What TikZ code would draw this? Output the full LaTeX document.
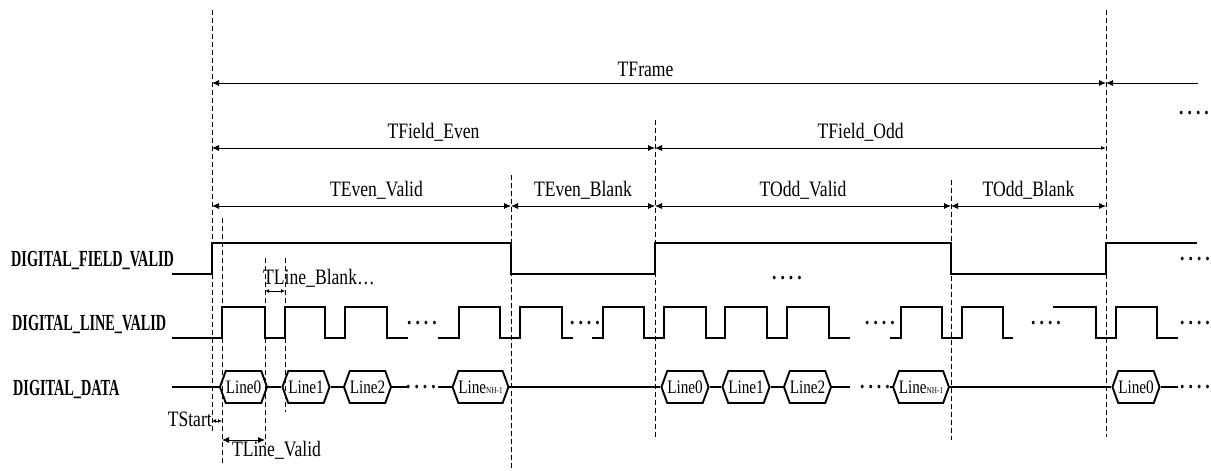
\documentclass[tikz,border=0pt]{standalone}
\usepackage{fontspec}
\usepackage{tikz}
\usetikzlibrary{positioning, arrows.meta, shapes.symbols, calc}

\newfontfamily\timesn[FakeStretch=0.8]{Liberation Serif}
\newfontfamily\timesb[FakeStretch=0.62]{Liberation Serif}
\newcommand{\fourdots}{.\hspace{4pt}.\hspace{4pt}.\hspace{4pt}.}
\newcommand{\lastline}{Line{\fontsize{9}{9}\selectfont NH-1}}

\begin{document}
\begin{tikzpicture}[
    x=1pt, y=-1pt,
    sig/.style={line width=1.9pt},
    guide/.style={line width=0.9pt, dash pattern=on 5pt off 3pt},
    dim/.style={{Latex[length=7pt,width=6pt]}-{Latex[length=7pt,width=6pt]}, line width=0.8pt},
    tinydim/.style={{Latex[length=4pt,width=4pt]}-{Latex[length=4pt,width=4pt]}, line width=0.8pt},
    lbl/.style={font=\timesn\fontsize{22}{22}\selectfont, inner sep=1pt},
    signame/.style={font=\timesb\bfseries\fontsize{23}{23}\selectfont, anchor=west, inner sep=0pt},
    dots/.style={font=\timesn\bfseries\fontsize{22}{22}\selectfont, inner sep=0pt},
    word/.style={signal, signal to=west and east, signal pointer angle=140, draw, line width=1.9pt,
        minimum height=32pt, minimum width=42pt, inner xsep=0pt, inner ysep=0pt,
        font=\timesn\fontsize{19}{19}\selectfont}
]
\useasboundingbox (0,0) rectangle (1211,471);

% Guide lines
\foreach \g/\gx/\ya/\yb in {ts/212/10/432, lv/222/218/465, le/265/258/445, ls/285/258/412,
    eb/511/175/471, fo/655/120/438, ob/951/180/440, fe/1106/10/437} {
    \coordinate (\g T) at (\gx,\ya);
    \coordinate (\g B) at (\gx,\yb);
    \draw[guide] (\g T) -- (\g B);
}
\coordinate (rowframe) at (0,83);
\coordinate (rowfield) at (0,148);
\coordinate (rowpart) at (0,206);
\coordinate (rowblank) at (0,291);
\coordinate (rowstart) at (0,421);
\coordinate (rowvalid) at (0,440);

% Frame and field timings
\draw[dim] (tsT |- rowframe) -- (feT |- rowframe) node[lbl, pos=0.485, above=5pt] {TFrame};
\coordinate (frameend) at (1198,83);
\draw[{Latex[length=7pt,width=6pt]}-, line width=0.8pt] (feT |- rowframe) -- (frameend);
\draw[dim] (tsT |- rowfield) -- (foT |- rowfield) node[lbl, midway, above=5pt] {TField\_Even};
\draw[{Latex[length=7pt,width=6pt]}-{Latex[length=5pt,width=4pt]}, line width=0.8pt]
    (foT |- rowfield) -- (feT |- rowfield) node[lbl, pos=0.456, above=5pt] {TField\_Odd};
\draw[dim] (tsT |- rowpart) -- (ebT |- rowpart) node[lbl, pos=0.55, above=5pt] {TEven\_Valid};
\draw[dim] (ebT |- rowpart) -- (foT |- rowpart) node[lbl, midway, above=5pt] {TEven\_Blank};
\draw[dim] (foT |- rowpart) -- (obT |- rowpart) node[lbl, midway, above=5pt] {TOdd\_Valid};
\draw[dim] (obT |- rowpart) -- (feT |- rowpart) node[lbl, midway, above=5pt] {TOdd\_Blank};
\node[dots] (dtop) at (1194,113) {\fourdots};

% Signal names
\node[signame] (nfield) at (11,260) {DIGITAL\_FIELD\_VALID};
\node[signame] (nline) at (12,324) {DIGITAL\_LINE\_VALID};
\node[signame] (ndata) at (13,389) {DIGITAL\_DATA};

% DIGITAL_FIELD_VALID
\draw[sig] (172,274) -- (212,274) -- (212,243) -- (511,243) -- (511,274) -- (655,274) -- (655,243)
    -- (951,243) -- (951,274) -- (1106,274) -- (1106,243) -- (1197,243);
\node[dots] (dfield) at (1195,259) {\fourdots};
\node[dots] (dmid) at (787,278) {\fourdots};

% DIGITAL_LINE_VALID
\draw[sig] (172,338) -- (222,338) -- (222,307) -- (265,307) -- (265,338) -- (285,338) -- (285,307)
    -- (325,307) -- (325,338) -- (345,338) -- (345,307) -- (387,307) -- (387,338) -- (408,338);
\draw[sig] (438,338) -- (459,338) -- (459,307) -- (500,307) -- (500,338) -- (520,338) -- (520,307)
    -- (562,307) -- (562,338) -- (573,338);
\draw[sig] (592,338) -- (603,338) -- (603,307) -- (644,307) -- (644,338) -- (664,338) -- (664,307)
    -- (706,307) -- (706,338) -- (725,338) -- (725,307) -- (767,307) -- (767,338) -- (787,338)
    -- (787,307) -- (829,307) -- (829,338) -- (850,338);
\draw[sig] (890,338) -- (901,338) -- (901,307) -- (942,307) -- (942,338) -- (962,338) -- (962,307)
    -- (1003,307) -- (1003,338) -- (1013,338);
\draw[sig] (1053,307) -- (1096,307) -- (1096,338) -- (1116,338) -- (1116,307) -- (1157,307)
    -- (1157,338) -- (1178,338);
\foreach \x in {422, 585, 880, 1046, 1195}
    \node[dots] at (\x,323) {\fourdots};

% Line timings
\draw[tinydim] (tsB |- rowstart) -- (lvB |- rowstart);
\node[lbl, anchor=east, inner sep=0pt] (tstart) at (212,419) {TStart};
\draw[dim] (lvB |- rowvalid) -- (leB |- rowvalid) node[lbl, pos=0.2, anchor=north west] {TLine\_Valid};
\draw[tinydim] (leT |- rowblank) -- (lsT |- rowblank);
\node[lbl, anchor=west, inner sep=0pt] (tblank) at (263,278) {TLine\_Blank…};

% DIGITAL_DATA
\node[word] (a0) at (243.5,387) {Line0};
\node[word] (a1) at (306,387) {Line1};
\node[word] (a2) at (367.5,387) {Line2};
\node[word] (an) at (480.5,387) {\lastline};
\node[word] (b0) at (685,387) {Line0};
\node[word] (b1) at (746,387) {Line1};
\node[word] (b2) at (807.5,387) {Line2};
\node[word] (bn) at (921,387) {\lastline};
\node[word] (c0) at (1136,387) {Line0};
\coordinate (dstart) at (172,387);
\coordinate (dcut1) at (407,387);
\coordinate (dgo1) at (438,387);
\coordinate (dcut2) at (850,387);
\coordinate (dgo2) at (890,387);
\coordinate (dend) at (1178,387);
\draw[sig] (dstart) -- (a0.west);
\draw[sig] (a0.east) -- (a1.west);
\draw[sig] (a1.east) -- (a2.west);
\draw[sig] (a2.east) -- (dcut1);
\draw[sig] (dgo1) -- (an.west);
\draw[sig] (an.east) -- (b0.west);
\draw[sig] (b0.east) -- (b1.west);
\draw[sig] (b1.east) -- (b2.west);
\draw[sig] (b2.east) -- (dcut2);
\draw[sig] (dgo2) -- (bn.west);
\draw[sig] (bn.east) -- (c0.west);
\draw[sig] (c0.east) -- (dend);
\node[dots] at (421,387) {\fourdots};
\node[dots] at (875,387) {\fourdots};
\node[dots] at (1195,387) {\fourdots};

\end{tikzpicture}
\end{document}
